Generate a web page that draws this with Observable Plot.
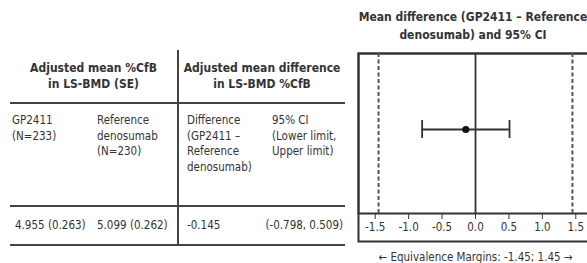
<!DOCTYPE html>
<html>
<head>
<meta charset="utf-8">
<script src="https://cdn.jsdelivr.net/npm/d3@7"></script>
<script src="https://cdn.jsdelivr.net/npm/@observablehq/plot@0.6"></script>
<style>
  html, body { margin: 0; padding: 0; background: #fff; }
  #wrap {
    position: relative; width: 587px; height: 263px; overflow: hidden;
    font-family: "Liberation Sans Narrow", "DejaVu Sans Condensed", "Roboto", sans-serif;
    color: #333;
  }
  #tbl {
    position: absolute; left: 10px; top: 50px; width: 335px;
    border-collapse: collapse; table-layout: fixed;
    font-size: 11.5px; line-height: 15.6px;
  }
  #tbl td { padding: 0; white-space: pre; box-sizing: border-box; }
  #tbl tr.grp td { height: 53px; text-align: center; vertical-align: middle; font-weight: bold; font-size: 12px; line-height: 16px; border-bottom: 2px solid #444; }
  #tbl tr.sub td { height: 103px; vertical-align: top; padding-top: 9px; border-bottom: 2px solid #444; }
  #tbl tr.val td { height: 39px; vertical-align: middle; border-bottom: 2px solid #444; }
  #tbl td.divider { border-right: 2px solid #444; }
  #title {
    position: absolute; left: 350px; width: 246px; top: 8px;
    text-align: center; font-weight: bold; font-size: 12px; line-height: 18px; white-space: pre;
  }
  #plot { position: absolute; left: 340px; top: 0; width: 262px; height: 263px; }
  #plot svg { max-width: none; }
</style>
</head>
<body>
<div id="wrap">
  <table id="tbl"></table>
  <div id="title"></div>
  <div id="plot"></div>
</div>
<script>
// ---- data ----
const groupHeaders = ["Adjusted mean %CfB\nin LS-BMD (SE)", "Adjusted mean difference\nin LS-BMD %CfB"];
const columnHeaders = ["GP2411\n(N=233)", "Reference\ndenosumab\n(N=230)", "Difference\n(GP2411 –\nReference\ndenosumab)", "95% CI\n(Lower limit,\nUpper limit)"];
const rowValues = ["4.955 (0.263)", "5.099 (0.262)", "-0.145", "(-0.798, 0.509)"];
const comparison = ["GP2411 – Reference denosumab"];
const meanDifference = [-0.145];
const ciLower = [-0.798];
const ciUpper = [0.509];
const equivalenceMargins = [-1.45, 1.45];
const xTicks = [-1.5, -1.0, -0.5, 0.0, 0.5, 1.0, 1.5];
const xDomain = [-1.75, 1.75];
const plotTitle = "Mean difference (GP2411 – Reference\ndenosumab) and 95% CI";
const axisCaption = "← Equivalence Margins: -1.45; 1.45 →";

// ---- table ----
const colWidths = [82, 86, 87, 80];
const subPad = ["2px", "5px", "8px", "7px"];
const valPad = [["5px", "0"], ["5px", "0"], ["8px", "0"], ["0", "2px"]];
const tbl = document.getElementById("tbl");
const cg = document.createElement("colgroup");
colWidths.forEach(w => { const c = document.createElement("col"); c.style.width = w + "px"; cg.appendChild(c); });
tbl.appendChild(cg);

const r1 = tbl.insertRow(); r1.className = "grp";
groupHeaders.forEach((h, i) => { const td = r1.insertCell(); td.colSpan = 2; td.textContent = h; if (i === 0) td.className = "divider"; });
const r2 = tbl.insertRow(); r2.className = "sub";
columnHeaders.forEach((h, i) => { const td = r2.insertCell(); td.textContent = h; td.style.paddingLeft = subPad[i]; if (i === 1) td.className = "divider"; });
const r3 = tbl.insertRow(); r3.className = "val";
rowValues.forEach((v, i) => {
  const td = r3.insertCell(); td.textContent = v;
  td.style.paddingLeft = valPad[i][0]; td.style.paddingRight = valPad[i][1];
  if (i === 3) td.style.textAlign = "right";
  if (i === 1) td.className = "divider";
});

document.getElementById("title").textContent = plotTitle;

// ---- forest plot ----
const rows = comparison.map((c, i) => ({c, diff: meanDifference[i], lo: ciLower[i], hi: ciUpper[i]}));
const ink = "#333";
const chart = Plot.plot({
  width: 262,
  height: 263,
  marginLeft: 18,
  marginRight: 10,
  marginTop: 53,
  marginBottom: 50,
  style: {fontFamily: '"Liberation Sans Narrow", "DejaVu Sans Condensed", Roboto, sans-serif', fontSize: "11.5px", color: ink, background: "transparent", maxWidth: "none"},
  x: {domain: xDomain, ticks: xTicks, tickFormat: d => d.toFixed(1), tickSize: 6, tickPadding: 3, label: axisCaption, labelAnchor: "center", labelArrow: "none", labelOffset: 47},
  y: {domain: comparison, axis: null, insetBottom: 8},
  marks: [
    Plot.frame({stroke: ink, strokeWidth: 2, insetBottom: -28}),
    Plot.frame({stroke: ink, strokeWidth: 2}),
    Plot.ruleX([0], {stroke: ink, strokeWidth: 1.8}),
    Plot.ruleX(equivalenceMargins, {stroke: "#555", strokeWidth: 2, strokeDasharray: "4,2.5"}),
    Plot.ruleY(rows, {y: "c", x1: "lo", x2: "hi", stroke: ink, strokeWidth: 1.8}),
    Plot.tickX(rows, {x: "lo", y: "c", stroke: ink, strokeWidth: 1.8, insetTop: 71, insetBottom: 71}),
    Plot.tickX(rows, {x: "hi", y: "c", stroke: ink, strokeWidth: 1.8, insetTop: 71, insetBottom: 71}),
    Plot.dot(rows, {x: "diff", y: "c", r: 3.6, fill: "#111", stroke: "none"})
  ]
});
document.getElementById("plot").appendChild(chart);
</script>
</body>
</html>
